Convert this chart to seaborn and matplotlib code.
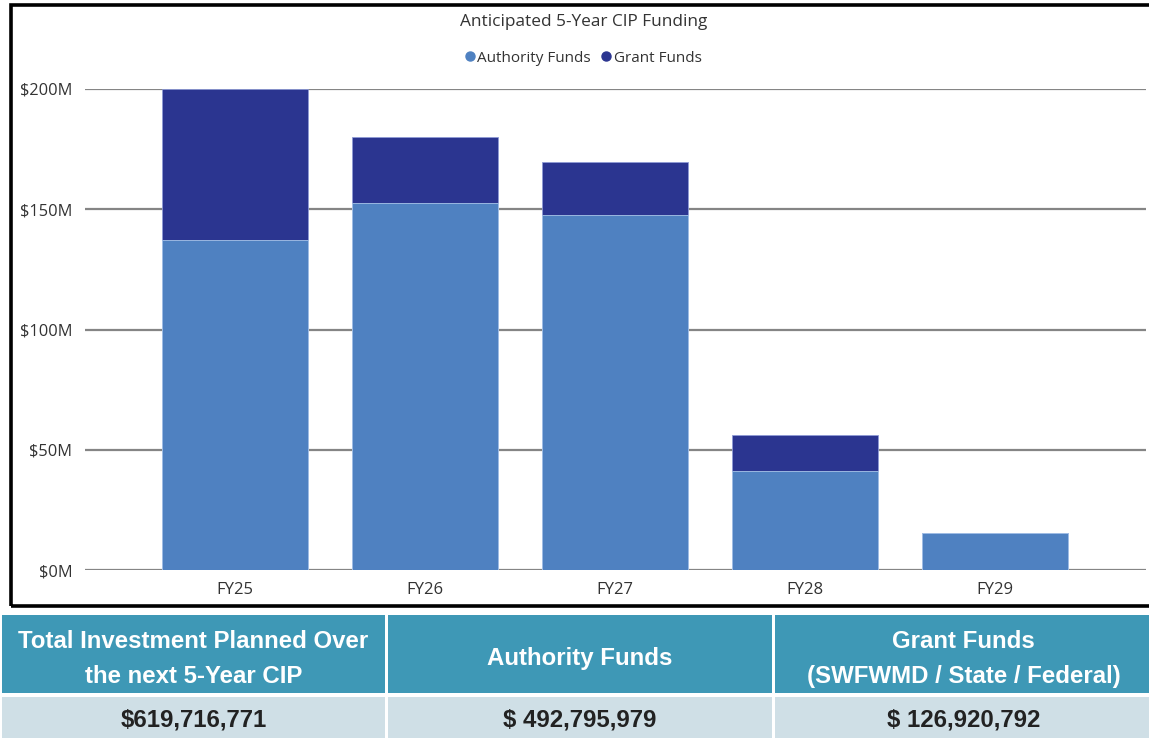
import matplotlib
matplotlib.use("Agg")
import matplotlib.pyplot as plt
from matplotlib.patches import Rectangle
from matplotlib.lines import Line2D
import pandas as pd
import seaborn as sns

# Funding by fiscal year, in millions of dollars
fiscal_years = ["FY25", "FY26", "FY27", "FY28", "FY29"]
authority_funds = [137.2, 152.4, 147.7, 41.0, 15.5]
grant_funds = [62.8, 27.5, 22.1, 15.0, 0.0]

y_ticks = [0, 50, 100, 150, 200]
y_tick_labels = ["$0M", "$50M", "$100M", "$150M", "$200M"]

table_headers = [
    "Total Investment Planned Over\nthe next 5-Year CIP",
    "Authority Funds",
    "Grant Funds\n(SWFWMD / State / Federal)",
]
table_values = ["$619,716,771", "$ 492,795,979", "$ 126,920,792"]

AUTH_COLOR = "#4F81C1"
GRANT_COLOR = "#2B3590"
HEADER_COLOR = "#3E98B6"
VALUE_COLOR = "#CFDFE6"

df = pd.DataFrame({
    "year": fiscal_years,
    "authority": authority_funds,
    "grant": grant_funds,
})
df["total"] = df["authority"] + df["grant"]

sns.set_theme(style="white")
plt.rcParams["font.family"] = ["Open Sans", "DejaVu Sans"]

W, H = 1149, 738
fig = plt.figure(figsize=(W / 100, H / 100), dpi=100)
fig.patch.set_facecolor("white")


def fx(px):
    return px / W


def fy(py):
    return 1 - py / H


# chart frame
fig.patches.append(Rectangle((fx(10.5), fy(605.5)), fx(1160) - fx(10.5), fy(4.5) - fy(605.5),
                             transform=fig.transFigure, fill=False, edgecolor="black",
                             linewidth=2.6, zorder=0))

ax = fig.add_axes([fx(85), fy(570), fx(1146) - fx(85), fy(89) - fy(570)])
bar_w = 146 / 190
sns.barplot(data=df, x="year", y="total", order=fiscal_years, color=GRANT_COLOR,
            saturation=1, width=bar_w, ax=ax, zorder=3, edgecolor="#8f9bd6", linewidth=0.6)
sns.barplot(data=df, x="year", y="authority", order=fiscal_years, color=AUTH_COLOR,
            saturation=1, width=bar_w, ax=ax, zorder=4, edgecolor="#a9c6ea", linewidth=0.6)

ax.set_xlim(-0.79, 4.795)
ax.set_ylim(0, 200)
ax.set_yticks(y_ticks)
ax.set_yticklabels(y_tick_labels)
ax.set_xlabel("")
ax.set_ylabel("")
ax.grid(axis="y", color="#858585", linewidth=1.6, zorder=0)
ax.grid(axis="x", visible=False)
for s in ax.spines.values():
    s.set_visible(False)
ax.tick_params(axis="y", length=0, pad=9, labelsize=11.8, labelcolor="#333333")
ax.tick_params(axis="x", length=0, pad=9, labelsize=12, labelcolor="#333333")
ax.set_facecolor("none")

fig.text(fx(584), fy(22), "Anticipated 5-Year CIP Funding", ha="center", va="center",
         fontsize=12.4, color="#333333")

handles = [
    Line2D([], [], marker="o", linestyle="none", markersize=6.5, color=AUTH_COLOR, label="Authority Funds"),
    Line2D([], [], marker="o", linestyle="none", markersize=6.5, color=GRANT_COLOR, label="Grant Funds"),
]
fig.legend(handles=handles, loc="center", bbox_to_anchor=(fx(582), fy(58)), ncol=2,
           frameon=False, fontsize=11, handletextpad=0.0, columnspacing=0.5,
           handlelength=1.0, labelcolor="#333333")

# summary table under the chart
table_font = ["Liberation Sans Narrow", "Liberation Sans", "DejaVu Sans"]
col_bounds = [(2, 385), (388, 772), (775, 1152)]
for (x0, x1), head, val in zip(col_bounds, table_headers, table_values):
    fig.patches.append(Rectangle((fx(x0), fy(693)), fx(x1) - fx(x0), fy(615) - fy(693),
                                 transform=fig.transFigure, facecolor=HEADER_COLOR,
                                 edgecolor="none"))
    fig.patches.append(Rectangle((fx(x0), fy(740)), fx(x1) - fx(x0), fy(697) - fy(740),
                                 transform=fig.transFigure, facecolor=VALUE_COLOR,
                                 edgecolor="none"))
    cx = (x0 + x1) / 2
    fig.text(fx(cx), fy(659), head, ha="center", va="center", fontsize=17.3,
             fontweight="bold", color="white", family=table_font, linespacing=1.62)
    fig.text(fx(cx), fy(720), val, ha="center", va="center", fontsize=17.3,
             fontweight="bold", color="#222222", family=table_font)

fig.savefig("out.png", dpi=100)
